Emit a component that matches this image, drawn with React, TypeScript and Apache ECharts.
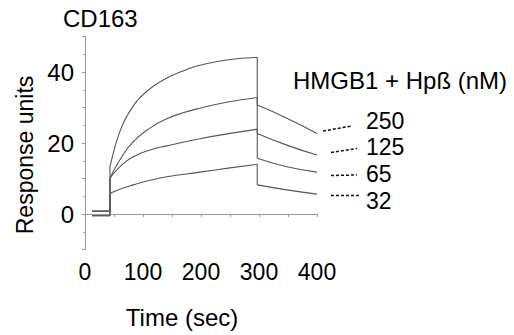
import React, { useEffect, useRef } from "react";
import * as echarts from "echarts";

const FONT = "'Liberation Sans', Arial, sans-serif";

const concentrations = ["250", "125", "65", "32"];
const xTickLabels = [0, 100, 200, 300, 400];
const yTickLabels = [0, 20, 40];

// injection start / dissociation start times (sec)
const injectionTime = 43;
const dissociationTime = 297;
const baselineStart = 12;

const baselines = [0.8, 0.8, -0.5, -0.5];

const association250: number[][] = [
  [43, 13.3], [49, 17.3], [55, 20.8], [63, 24.4], [72, 27.5], [83, 30.4],
  [95, 32.8], [117, 35.9], [141, 38.3], [169, 40.3], [198, 41.9], [244, 43.4], [297, 44.1],
];
const dissociation250: number[][] = [[297, 30.7], [348, 27.0], [400, 22.7]];

const association125: number[][] = [
  [43, 10.1], [60, 15.2], [83, 20.3], [112, 24.2], [141, 26.8],
  [169, 28.5], [198, 29.8], [244, 31.5], [297, 32.8],
];
const dissociation125: number[][] = [[297, 22.7], [348, 19.4], [400, 16.6]];

const association65: number[][] = [
  [43, 10.1], [60, 13.3], [83, 16.1], [112, 18.0], [141, 19.2],
  [198, 21.2], [250, 22.7], [297, 23.9],
];
const dissociation65: number[][] = [[297, 15.7], [348, 13.3], [400, 11.8]];

const association32: number[][] = [
  [43, 5.8], [60, 7.0], [83, 8.2], [112, 9.5], [141, 10.5],
  [198, 11.8], [250, 13.0], [297, 14.0],
];
const dissociation32: number[][] = [[297, 8.2], [348, 6.8], [400, 5.6]];

const associations = [association250, association125, association65, association32];
const dissociations = [dissociation250, dissociation125, dissociation65, dissociation32];

export default function App() {
  const ref = useRef<HTMLDivElement>(null);
  useEffect(() => {
    if (!ref.current) return;
    const chart = echarts.init(ref.current, null, { renderer: "svg" });

    const labelYs = [121, 147, 174, 201];
    const dashes = [
      [323, 131, 352, 126],
      [331, 152.5, 357, 148.5],
      [331, 175.5, 357, 175],
      [331, 195.5, 360, 195.5],
    ];

    const graphic: any[] = [
      { type: "text", x: 63, y: 18.5, style: { text: "CD163", font: `24px ${FONT}`, fill: "#000", textAlign: "left", textVerticalAlign: "middle" } },
      { type: "text", x: 182, y: 317, style: { text: "Time (sec)", font: `24px ${FONT}`, fill: "#000", textAlign: "center", textVerticalAlign: "middle" } },
      { type: "text", x: 25, y: 155, rotation: Math.PI / 2, style: { text: "Response units", font: `23px ${FONT}`, fill: "#000", textAlign: "center", textVerticalAlign: "middle" } },
      { type: "text", x: 293, y: 80, style: { text: "HMGB1 + Hpß (nM)", font: `24px ${FONT}`, fill: "#000", textAlign: "left", textVerticalAlign: "middle" } },
    ];
    concentrations.forEach((c, i) => {
      graphic.push({ type: "text", x: 366, y: labelYs[i], style: { text: c, font: `23px ${FONT}`, fill: "#000", textAlign: "left", textVerticalAlign: "middle" } });
      const d = dashes[i];
      graphic.push({ type: "line", shape: { x1: d[0], y1: d[1], x2: d[2], y2: d[3] }, style: { stroke: "#111", lineWidth: 1.5, lineDash: [3, 2] } });
    });

    const lineStyle = { color: "#555", width: 1.1 };
    const series: any[] = [];
    concentrations.forEach((c, i) => {
      const a = associations[i];
      const d = dissociations[i];
      // smooth kinetic phases
      series.push({
        name: c, type: "line", showSymbol: false, smooth: 0.5,
        connectNulls: false, lineStyle,
        data: [...a, "-", ...d],
      });
      // baseline, injection step and dissociation drop (straight)
      series.push({
        name: c, type: "line", showSymbol: false, smooth: false, connectNulls: false, lineStyle,
        data: [
          [baselineStart, baselines[i]], [injectionTime, baselines[i]], a[0], "-",
          a[a.length - 1], [dissociationTime, d[0][1]],
        ],
      });
    });

    chart.setOption({
      animation: false,
      grid: { left: 85, right: 197, top: 36.5, bottom: 85.5, containLabel: false },
      xAxis: {
        type: "value", min: 0, max: 400, interval: 50,
        axisLine: { lineStyle: { color: "#999", width: 1 } },
        axisTick: { show: true, length: 3, lineStyle: { color: "#999" } },
        splitLine: { show: false },
        axisLabel: {
          margin: 11, fontSize: 23, fontFamily: FONT, color: "#000",
          formatter: (v: number) => (xTickLabels.includes(v) ? String(v) : ""),
        },
      },
      yAxis: {
        type: "value", min: -10, max: 50, interval: 10,
        axisLine: { show: true, lineStyle: { color: "#999", width: 1 } },
        axisTick: { show: true, length: 3, lineStyle: { color: "#999" } },
        minorTick: { show: true, splitNumber: 2, length: 2, lineStyle: { color: "#aaa" } },
        splitLine: { show: false },
        axisLabel: {
          margin: 11, fontSize: 24, fontFamily: FONT, color: "#000",
          formatter: (v: number) => (yTickLabels.includes(v) ? String(v) : ""),
        },
      },
      series,
      graphic,
    });
    return () => chart.dispose();
  }, []);
  return <div ref={ref} style={{ position: "absolute", left: 0, top: 0, width: 514, height: 335 }} />;
}
